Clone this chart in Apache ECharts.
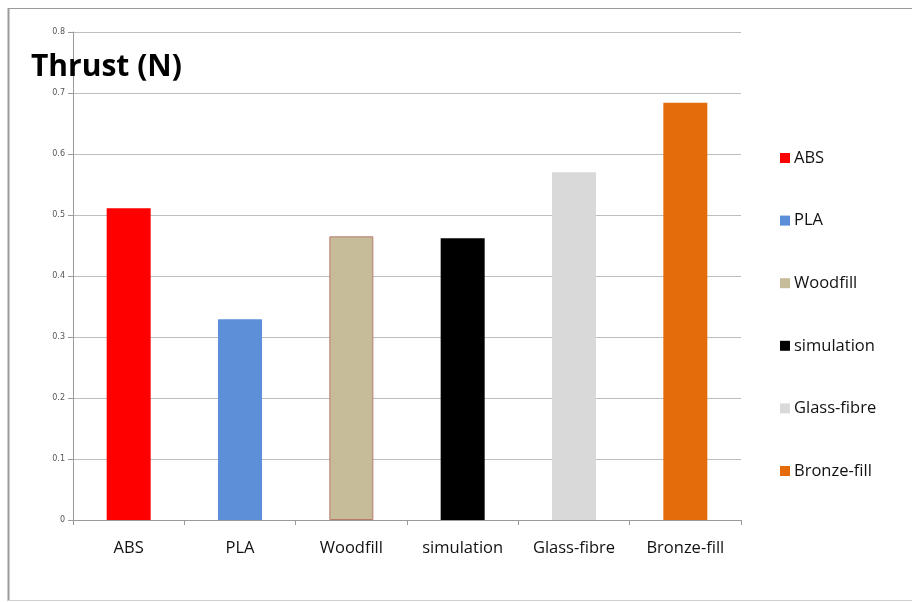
<!DOCTYPE html>
<html>
<head>
<meta charset="utf-8">
<script src="https://cdn.jsdelivr.net/npm/echarts@6/dist/echarts.min.js"></script>
<style>
  html, body { margin: 0; padding: 0; background: #fff; }
  #chart { width: 912px; height: 602px; }
</style>
</head>
<body>
<div id="chart"></div>
<script>
// Materials compared, and the measured thrust for each (N)
const materials = ['ABS', 'PLA', 'Woodfill', 'simulation', 'Glass-fibre', 'Bronze-fill'];
const thrust = [0.511, 0.329, 0.465, 0.462, 0.570, 0.684];
const colors = ['#fe0000', '#5b8fd8', '#c6bc9a', '#000000', '#d9d9d9', '#e46c0a'];
const yTicks = [0, 0.1, 0.2, 0.3, 0.4, 0.5, 0.6, 0.7, 0.8];

const chart = echarts.init(document.getElementById('chart'));

// One series per material so each gets its own legend entry; they share a slot per category.
const series = materials.map((name, i) => ({
  name: name,
  type: 'bar',
  barWidth: 44,
  barGap: '-100%',
  data: materials.map((_, j) => (j === i ? thrust[i] : null)),
  itemStyle: {
    color: colors[i],
    borderColor: name === 'Woodfill' ? '#b87a6e' : colors[i],
    borderWidth: name === 'Woodfill' ? 1 : 0
  }
}));

chart.setOption({
  backgroundColor: '#ffffff',
  animation: false,
  title: {
    text: 'Thrust (N)',
    left: 26,
    top: 47,
    textStyle: { fontFamily: 'Open Sans', fontWeight: 'bold', fontSize: 30, color: '#000' }
  },
  legend: {
    orient: 'vertical',
    left: 775,
    top: 144,
    icon: 'rect',
    itemWidth: 10,
    itemHeight: 10,
    itemGap: 44.6,
    itemStyle: { borderWidth: 0 },
    data: materials,
    textStyle: { fontFamily: 'Open Sans', fontSize: 16.5, color: '#111', lineHeight: 18, padding: [0, 0, 0, -1] }
  },
  grid: { left: 73, right: 171, top: 32, bottom: 82 },
  xAxis: {
    type: 'category',
    data: materials,
    axisLine: { lineStyle: { color: '#9a9a9a' } },
    axisTick: { show: true, length: 5, lineStyle: { color: '#9a9a9a' } },
    axisLabel: { fontFamily: 'Open Sans', fontSize: 16.5, color: '#111', margin: 20 }
  },
  yAxis: {
    type: 'value',
    min: yTicks[0],
    max: yTicks[yTicks.length - 1],
    interval: 0.1,
    axisLine: { show: true, lineStyle: { color: '#9a9a9a' } },
    axisTick: { show: true, length: 5, lineStyle: { color: '#9a9a9a' } },
    axisLabel: { fontFamily: 'DejaVu Sans', fontSize: 8, color: '#555', margin: 8,
                 formatter: v => String(Math.round(v * 10) / 10) },
    splitLine: { lineStyle: { color: '#bdbdbd' } }
  },
  graphic: [
    { type: 'line', shape: { x1: 8.5, y1: 8, x2: 8.5, y2: 601 }, style: { stroke: '#9a9a9a', lineWidth: 2 } },
    { type: 'line', shape: { x1: 8, y1: 8.5, x2: 912, y2: 8.5 }, style: { stroke: '#9a9a9a', lineWidth: 1 } },
    { type: 'line', shape: { x1: 8, y1: 600.5, x2: 912, y2: 600.5 }, style: { stroke: '#d0d0d0', lineWidth: 1 } }
  ],
  series: series
});
</script>
</body>
</html>
